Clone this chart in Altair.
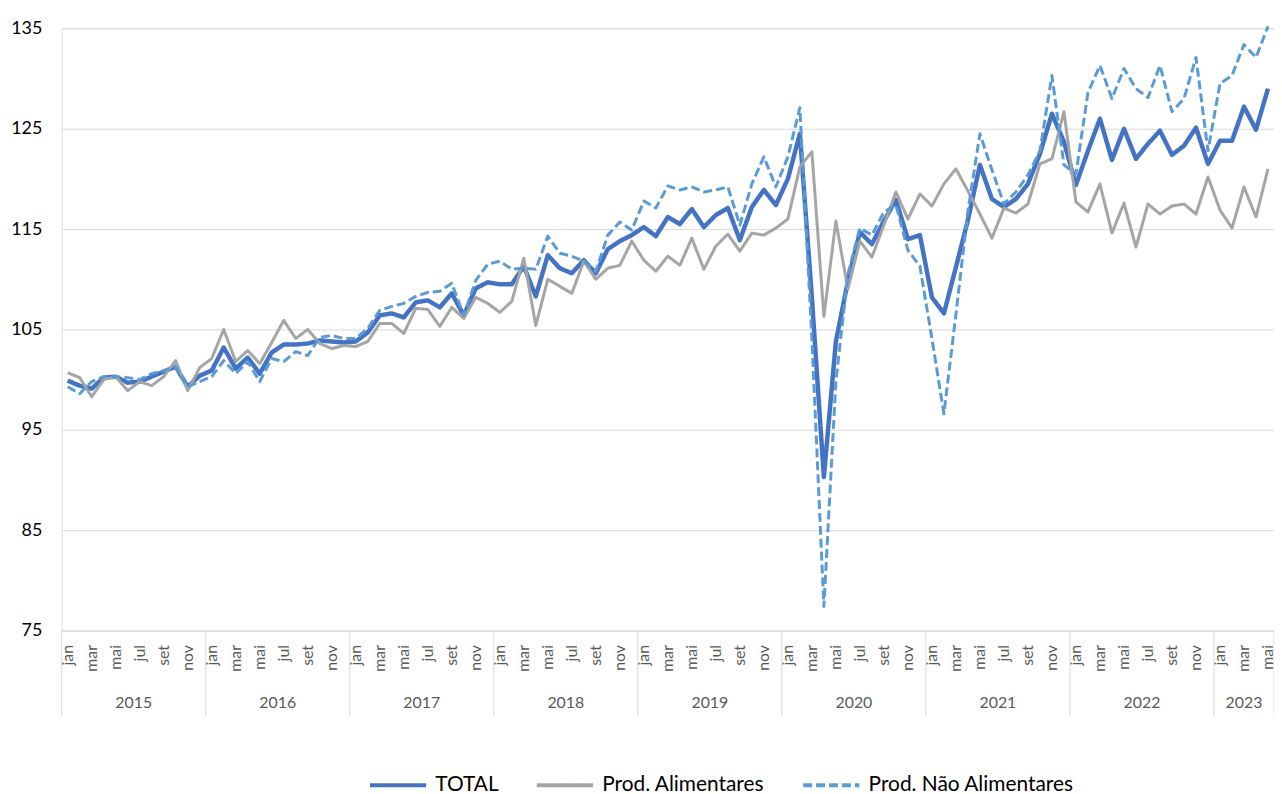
import json
import altair as alt
import pandas as pd

years = [2015, 2016, 2017, 2018, 2019, 2020, 2021, 2022, 2023]
month_abbr = ["jan", "fev", "mar", "abr", "mai", "jun", "jul", "ago", "set", "out", "nov", "dez"]
series_names = ["TOTAL", "Prod. Alimentares", "Prod. Não Alimentares"]
y_ticks = [75, 85, 95, 105, 115, 125, 135]

total = [
    99.9, 99.4, 99.1, 100.2, 100.3, 99.7, 99.8, 100.3, 100.8, 101.3, 99.3, 100.4,
    100.9, 103.2, 101.1, 102.2, 100.6, 102.7, 103.5, 103.5, 103.6, 103.9, 103.8, 103.7,
    103.8, 104.7, 106.4, 106.6, 106.2, 107.7, 107.9, 107.2, 108.6, 106.4, 109.1, 109.7,
    109.5, 109.5, 111.3, 108.3, 112.4, 111.1, 110.6, 111.9, 110.6, 113.0, 113.8, 114.4,
    115.2, 114.3, 116.2, 115.5, 117.0, 115.2, 116.4, 117.1, 113.9, 117.2, 118.9, 117.4,
    120.0, 124.5, 108.2, 90.3, 103.8, 109.8, 114.7, 113.5, 115.8, 117.9, 114.0, 114.4,
    108.2, 106.6, 111.2, 115.9, 121.4, 118.0, 117.2, 118.0, 119.5, 122.5, 126.5, 123.7,
    119.4, 122.8, 126.0, 121.9, 125.0, 122.0, 123.5, 124.8, 122.4, 123.3, 125.1, 121.5,
    123.8, 123.8, 127.2, 124.9, 129.0,
]
food = [
    100.7, 100.2, 98.3, 100.0, 100.3, 98.9, 99.8, 99.4, 100.3, 101.9, 98.9, 101.2,
    102.1, 105.0, 101.8, 102.9, 101.6, 103.7, 105.9, 104.1, 105.0, 103.6, 103.1, 103.4,
    103.3, 103.8, 105.6, 105.6, 104.6, 107.1, 107.0, 105.3, 107.2, 106.1, 108.2, 107.6,
    106.7, 107.8, 112.1, 105.4, 110.0, 109.3, 108.6, 111.8, 110.0, 111.1, 111.4, 113.8,
    111.9, 110.8, 112.3, 111.4, 114.1, 111.0, 113.3, 114.5, 112.8, 114.6, 114.4, 115.1,
    116.0, 121.2, 122.7, 106.3, 115.8, 109.0, 113.8, 112.2, 115.4, 118.7, 116.0, 118.5,
    117.3, 119.5, 121.0, 118.8, 116.5, 114.1, 117.1, 116.6, 117.5, 121.5, 122.0, 126.7,
    117.7, 116.7, 119.5, 114.6, 117.6, 113.2, 117.5, 116.5, 117.3, 117.5, 116.5, 120.2,
    116.9, 115.1, 119.2, 116.2, 121.0,
]
nonfood = [
    99.3, 98.6, 99.8, 100.3, 100.3, 100.2, 100.0, 100.6, 100.9, 101.3, 99.3, 99.8,
    100.3, 101.9, 100.6, 101.8, 99.8, 102.1, 101.8, 102.8, 102.4, 104.2, 104.4, 104.1,
    104.1, 105.1, 106.9, 107.3, 107.6, 108.3, 108.7, 108.8, 109.6, 106.4, 109.9, 111.5,
    111.8, 111.0, 111.1, 111.0, 114.3, 112.6, 112.3, 111.8, 110.8, 114.4, 115.7, 114.9,
    117.8, 117.1, 119.3, 118.9, 119.2, 118.7, 118.9, 119.2, 115.4, 119.5, 122.2, 119.2,
    122.2, 127.1, 104.1, 77.4, 99.8, 110.5, 115.1, 114.4, 116.7, 117.4, 112.9, 111.3,
    104.1, 96.6, 106.5, 116.8, 124.5, 120.9, 117.5, 118.7, 120.4, 122.8, 130.3, 121.4,
    120.5, 128.6, 131.3, 128.0, 131.0, 129.0, 128.1, 131.3, 126.7, 128.0, 132.1, 122.8,
    129.5, 130.3, 133.4, 132.1, 135.2,
]

n = len(total)
W, H = 1220, 606
FONT = "Lato"

rows = []
for name, vals in zip(series_names, [total, food, nonfood]):
    for i, v in enumerate(vals):
        rows.append({"i": i, "serie": name, "valor": v})
df = pd.DataFrame(rows)

# year groups (label centres and separators) derived from the month count
year_rows = []
sep_rows = []
for k, y in enumerate(years):
    start = 12 * k
    end = min(12 * k + 11, n - 1)
    year_rows.append({"i": (start + end) / 2, "ano": str(y)})
    sep_rows.append({"i": start - 0.5})
sep_rows.append({"i": n - 0.5})
year_df = pd.DataFrame(year_rows)
sep_df = pd.DataFrame(sep_rows)

xscale = alt.Scale(domain=[-0.5, n - 0.5], nice=False, zero=False)
yscale = alt.Scale(domain=[y_ticks[0], y_ticks[-1]], nice=False, zero=False)

label_expr = "[" + ",".join(json.dumps(m) for m in month_abbr) + "][datum.value % 12]"
xaxis = alt.Axis(
    values=list(range(0, n, 2)), labelExpr=label_expr, labelAngle=270,
    labelFontSize=16, labelColor="#595959", labelPadding=14, labelFlush=False,
    labelOverlap=False, labelSeparation=0, ticks=False, tickSize=0, grid=False,
    domain=True, domainColor="#d9d9d9", domainWidth=1, title=None, labelFont=FONT,
)
yaxis = alt.Axis(
    values=y_ticks, title=None, domain=False, ticks=False, tickSize=0, grid=True,
    gridColor="#d9d9d9", gridWidth=1, labelFontSize=18, labelColor="#000000",
    labelPadding=20, labelFlush=False, labelFont=FONT,
)

color_scale = alt.Scale(domain=series_names, range=["#4472C4", "#A5A5A5", "#5B9BD5"])
dash_scale = alt.Scale(domain=series_names, range=[[1, 0], [1, 0], [9, 4]])
legend = alt.Legend(
    title=None, orient="none", legendX=308, legendY=731, direction="horizontal",
    symbolType="stroke", symbolSize=3200, symbolStrokeWidth=4,
    labelFontSize=21, labelFont=FONT, labelColor="#000000", labelLimit=400,
    columnPadding=30, labelOffset=7,
)

def line_layer(name, width):
    return (
        alt.Chart(df)
        .transform_filter(alt.datum.serie == name)
        .mark_line(strokeWidth=width, strokeJoin="round")
        .encode(
            x=alt.X("i:Q", scale=xscale, axis=xaxis, title=None),
            y=alt.Y("valor:Q", scale=yscale, axis=yaxis, title=None),
            color=alt.Color("serie:N", scale=color_scale, legend=legend),
            strokeDash=alt.StrokeDash("serie:N", scale=dash_scale, legend=legend),
        )
    )

lines = [line_layer(series_names[0], 4.5), line_layer(series_names[1], 3), line_layer(series_names[2], 3)]

seps = alt.Chart(sep_df).mark_rule(color="#d9d9d9", strokeWidth=1).encode(
    x=alt.X("i:Q", scale=xscale, axis=xaxis, title=None),
    y=alt.value(H),
    y2=alt.value(H + 86),
)
year_text = alt.Chart(year_df).mark_text(
    fontSize=16, font=FONT, color="#595959", baseline="middle", align="center"
).encode(
    x=alt.X("i:Q", scale=xscale, axis=xaxis, title=None),
    y=alt.value(H + 73),
    text="ano:N",
)

chart = (
    alt.layer(*lines, seps, year_text)
    .properties(
        width=W, height=H,
        autosize=alt.AutoSizeParams(type="none"),
        padding={"left": 54, "top": 18, "right": 0, "bottom": 165},
    )
    .configure_view(stroke=None)
    .configure_axisX(labelOverlap=False)
    .configure(font=FONT)
)

chart.save("out.html", embed_options={"renderer": "svg", "actions": False})
